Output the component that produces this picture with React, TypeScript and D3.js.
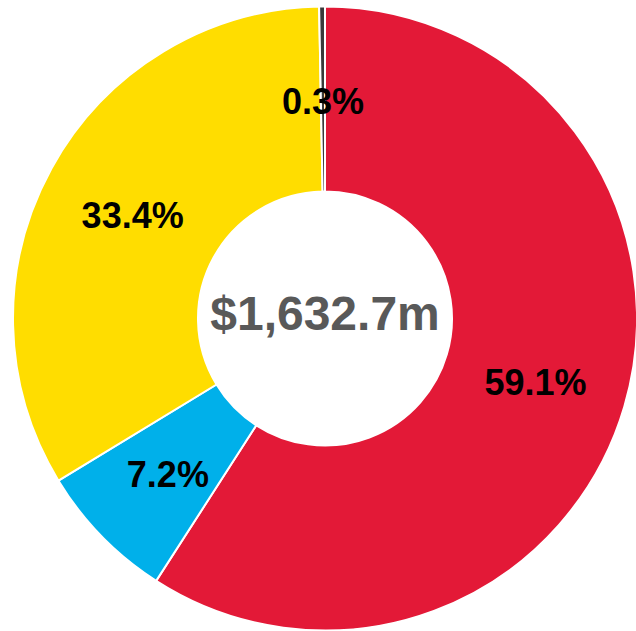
import React from "react";
import * as d3 from "d3";

const categories = ["A", "B", "C", "D"];
const values = [59.1, 7.2, 33.4, 0.3];
const colors = ["#E31937", "#00B0EA", "#FFDD00", "#3a3a3a"];
const centerLabel = "$1,632.7m";

const W = 636;
const H = 631;
const cx = 325;
const cy = 318.5;
const outerR = 312;
const innerR = 127;

export default function App() {
  const pie = d3.pie<number>().sort(null).value((d) => d);
  const arcs = pie(values);
  const arc = d3.arc<d3.PieArcDatum<number>>().innerRadius(innerR).outerRadius(outerR);
  const labelArc = d3
    .arc<d3.PieArcDatum<number>>()
    .innerRadius((innerR + outerR) / 2)
    .outerRadius((innerR + outerR) / 2);

  return (
    <svg
      width={W}
      height={H}
      style={{ position: "absolute", left: 0, top: 0, background: "#fff" }}
      fontFamily="'Liberation Sans', Arial, sans-serif"
    >
      <g transform={`translate(${cx},${cy})`}>
        {arcs.map((a, i) => (
          <path key={categories[i]} d={arc(a) || ""} fill={colors[i]} stroke="#fff" strokeWidth={2} />
        ))}
        {arcs.map((a, i) => {
          const [x, y] = labelArc.centroid(a);
          return (
            <text
              key={"l" + categories[i]}
              x={x}
              y={y + 2}
              dy="0.36em"
              textAnchor="middle"
              fontWeight="bold"
              fontSize={36}
              fill="#000"
            >
              {values[i].toFixed(1)}%
            </text>
          );
        })}
        <text x={0} y={-6} dy="0.36em" textAnchor="middle" fontWeight="bold" fontSize={48} fill="#595959">
          {centerLabel}
        </text>
      </g>
    </svg>
  );
}
